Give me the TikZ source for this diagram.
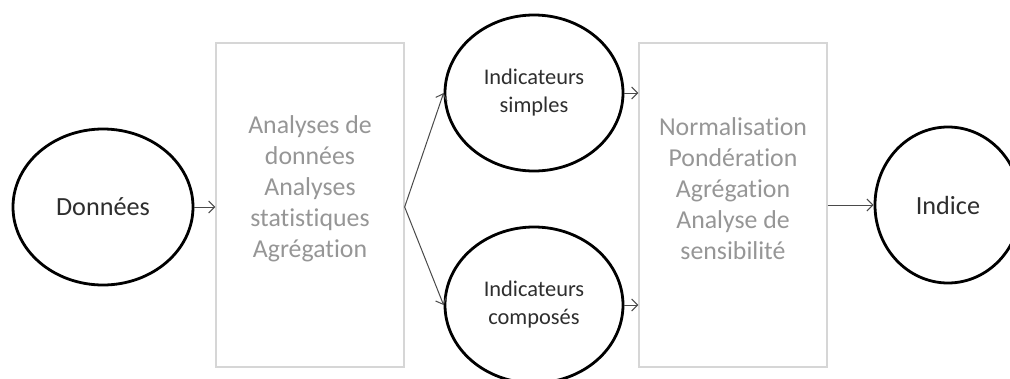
\documentclass[tikz,border=0pt]{standalone}
\usepackage{fontspec}
\setmainfont{Carlito}[Ligatures={NoCommon,NoDiscretionary,NoRare}]
\usetikzlibrary{shapes.geometric,arrows.meta}
\definecolor{graytext}{HTML}{969696}
\definecolor{boxline}{HTML}{D6D6D6}
\definecolor{arrowc}{HTML}{4A4A4A}
\tikzset{
  oval/.style={ellipse,draw=black,line width=2.8pt,inner sep=0pt,text=black!82},
  bigtext/.style={font=\fontsize{26.2}{31}\selectfont},
  smalltext/.style={font=\fontsize{22.4}{28}\selectfont,align=center},
  procbox/.style={rectangle,draw=boxline,line width=1.3pt,minimum width=188pt,minimum height=324pt,inner sep=0pt},
  proctext/.style={text=graytext,align=center,font=\fontsize{25.8}{31}\selectfont},
  conn/.style={draw=arrowc,line width=1pt,-{Straight Barb[length=6pt,width=12pt,line width=1pt]}}
}
\begin{document}
\begin{tikzpicture}[x=1pt,y=-1pt]
\useasboundingbox (0,0) rectangle (1010,378);
\clip (0,0) rectangle (1010,378);
\fill[white] (0,0) rectangle (1010,378);
\node[oval,bigtext,minimum width=180pt,minimum height=156pt] (donnees) at (103,207) {Données};
\node[procbox] (box1) at (310,205) {};
\node[proctext] (t1) at ([yshift=16pt]box1.center) {Analyses de\\données\\Analyses\\statistiques\\Agrégation};
\node[oval,smalltext,minimum width=178pt,minimum height=156pt] (simples) at (534,93) {Indicateurs\\simples};
\node[oval,smalltext,minimum width=178pt,minimum height=156pt] (composes) at (534,305) {Indicateurs\\composés};
\node[procbox] (box2) at (733,205) {};
\node[proctext] (t2) at ([yshift=16pt]box2.center) {Normalisation\\Pondération\\Agrégation\\Analyse de\\sensibilité};
\node[oval,bigtext,minimum width=146pt,minimum height=156pt] (indice) at (948,205) {Indice};
\coordinate (fork) at (box1.east |- donnees.center);
\draw[conn] (donnees.east) -- (donnees.east -| box1.west);
\draw[conn] (fork) -- (simples.west);
\draw[conn] (fork) -- (composes.west);
\draw[conn] (simples.east) -- (simples.east -| box2.west);
\draw[conn] (composes.east) -- (composes.east -| box2.west);
\draw[conn] (box2.east) -- (indice.west);
\end{tikzpicture}
\end{document}
